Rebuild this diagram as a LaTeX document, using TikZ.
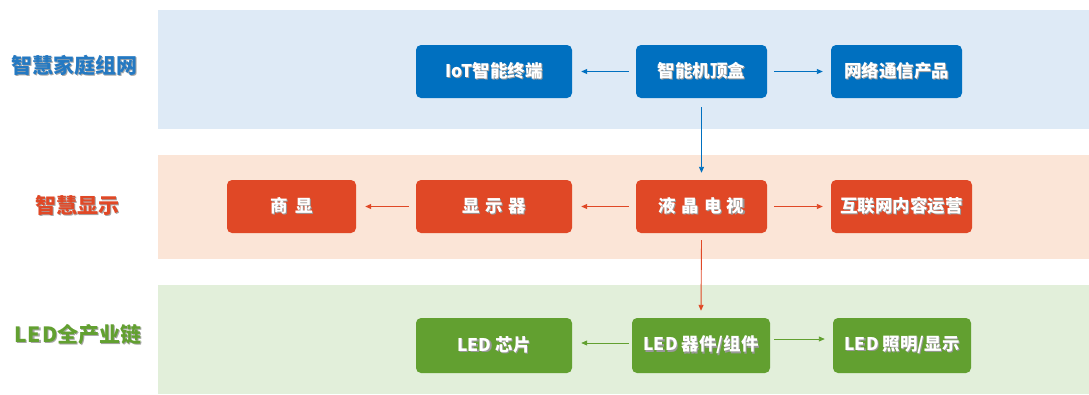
\documentclass[tikz,border=0pt]{standalone}
\usepackage{fontspec}
\setmainfont{Noto Sans CJK SC}
\usetikzlibrary{arrows.meta}
\definecolor{bandblue}{HTML}{DEEAF6}
\definecolor{bandpink}{HTML}{FBE5D7}
\definecolor{bandgreen}{HTML}{E2EFDA}
\definecolor{boxblue}{HTML}{0070C0}
\definecolor{boxred}{HTML}{E04826}
\definecolor{boxgreen}{HTML}{62A030}
\definecolor{lblblue}{HTML}{2479C2}
\newcommand\shtxt[2]{\rlap{\kern1.2pt\raisebox{-1.2pt}{\textcolor{#1}{#2}}}#2}
\tikzset{
  boxbase/.style={rounded corners=5pt,draw=none,text=white,font=\bfseries\fontsize{17.5}{19}\selectfont,inner sep=0pt,minimum height=53pt},
  bbox/.style={boxbase,fill=boxblue},
  rbox/.style={boxbase,fill=boxred},
  gbox/.style={boxbase,fill=boxgreen},
  lbl/.style={font=\bfseries\fontsize{21}{23}\selectfont},
  conn/.style={line width=0.9pt,-{Triangle[length=6pt,width=5pt]}},
}
\begin{document}
\begin{tikzpicture}[x=1pt,y=-1pt]
\useasboundingbox (0,0) rectangle (1089,394);
% bands
\fill[bandblue] (158,10) rectangle (1089,129);
\fill[bandpink] (158,155) rectangle (1089,259);
\fill[bandgreen] (158,285) rectangle (1089,394);
% labels
\node[lbl,text=lblblue] (l1) at (74,66) {\shtxt{black!35}{智慧家庭组网}};
\node[lbl,text=boxred] (l2) at (77,206) {\shtxt{black!35}{智慧显示}};
\node[lbl,text=boxgreen] (l3) at (78,335) {\shtxt{black!35}{L\kern1pt E\kern1pt D全产业链}};
% row 1
\node[bbox,minimum width=156pt] (iot) at (494,71.5) {\shtxt{black!40}{IoT智能终端}};
\node[bbox,minimum width=131pt] (stb) at (701.5,71.5) {\shtxt{black!40}{智能机顶盒}};
\node[bbox,minimum width=131pt] (net) at (896.5,71.5) {\shtxt{black!40}{网络通信产品}};
% row 2
\node[rbox,minimum width=129pt] (sx) at (291.5,206.5) {\shtxt{black!40}{商\hspace{0.45em}显}};
\node[rbox,minimum width=156pt] (xsq) at (494,206.5) {\shtxt{black!40}{显\hspace{0.3em}示\hspace{0.3em}器}};
\node[rbox,minimum width=131pt] (tv) at (701.5,206.5) {\shtxt{black!40}{液\hspace{0.3em}晶\hspace{0.3em}电\hspace{0.3em}视}};
\node[rbox,minimum width=141pt] (web) at (901.5,206.5) {\shtxt{black!40}{互联网内容运营}};
% row 3
\node[gbox,minimum width=156pt,minimum height=55pt] (chip) at (494,345.5) {\shtxt{black!40}{LED 芯片}};
\node[gbox,minimum width=138pt,minimum height=55pt] (dev) at (701,345.5) {\shtxt{black!40}{LED 器件/组件}};
\node[gbox,minimum width=138pt,minimum height=55pt] (lit) at (902,345.5) {\shtxt{black!40}{LED 照明/显示}};
% connectors
\draw[conn,boxblue] ([xshift=-7pt]stb.west) -- ([xshift=9pt]iot.east);
\draw[conn,boxblue] ([xshift=7pt]stb.east) -- ([xshift=-8pt]net.west);
\draw[conn,boxblue] ([yshift=-9pt]stb.south) -- ([yshift=7pt]tv.north);
\draw[conn,boxred] ([xshift=-7pt]xsq.west) -- ([xshift=9pt]sx.east);
\draw[conn,boxred] ([xshift=-7pt]tv.west) -- ([xshift=9pt]xsq.east);
\draw[conn,boxred] ([xshift=7pt]tv.east) -- ([xshift=-8pt]web.west);
\draw[conn,boxred] ([yshift=-7pt]tv.south) -- ([yshift=7pt]dev.north);
\draw[conn,boxgreen] ([xshift=-3pt,yshift=2.5pt]dev.west) -- ([xshift=9pt,yshift=2.5pt]chip.east);
\draw[conn,boxgreen] ([xshift=4pt,yshift=6.5pt]dev.east) -- ([xshift=-8pt,yshift=6.5pt]lit.west);
\end{tikzpicture}
\end{document}
